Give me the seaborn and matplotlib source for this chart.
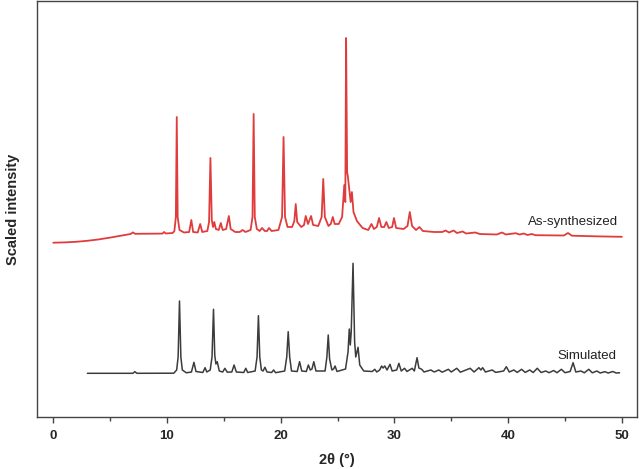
import matplotlib
matplotlib.use("Agg")
import matplotlib.pyplot as plt
from matplotlib.ticker import MultipleLocator
import seaborn as sns
import pandas as pd

# ---- data (2theta in degrees, scaled intensity in arbitrary units) ----
red_theta = [0, 1, 2, 3, 4, 5, 6, 6.8, 7.0, 7.2, 8.5, 9.6, 9.75, 9.9, 10.5,
             10.65, 10.78, 10.86, 10.94, 11.1, 11.5,
             11.95, 12.14, 12.3, 12.7, 12.92, 13.1, 13.55, 13.7, 13.82, 13.94, 14.05, 14.16, 14.3,
             14.55, 14.73, 14.9, 15.2, 15.44, 15.6, 16.0, 16.4, 16.65, 16.9, 17.35, 17.52, 17.62,
             17.72, 17.9, 18.15, 18.36, 18.6, 18.8, 18.97, 19.2, 19.8, 20.12, 20.25, 20.38, 20.6,
             21.0, 21.2, 21.32, 21.45, 21.8, 22.05, 22.2, 22.4, 22.67, 22.85, 23.3, 23.6, 23.74,
             23.88, 24.2, 24.4, 24.58, 24.75, 25.1, 25.4, 25.59, 25.68, 25.75, 25.84, 25.9, 26.05,
             26.15, 26.26, 26.4, 26.7, 27.2, 27.7, 27.98, 28.2, 28.45, 28.65, 28.85, 29.1, 29.29,
             29.5, 29.8, 29.96, 30.15, 30.8, 31.15, 31.35, 31.55, 31.9, 32.2, 32.5, 33.5, 34.2,
             34.5, 34.8, 35.2, 35.5, 36.0, 36.3, 37.1, 37.5, 39.0, 39.45, 39.8, 40.66, 41.0, 41.36,
             41.7, 42.07, 42.4, 44.9, 45.26, 45.6, 48.0, 50.0]
red_int = [174.3, 174.6, 175.2, 176.2, 177.6, 179.4, 181.4, 183.0, 184.6, 183.2, 183.3, 183.4, 185.0, 183.5, 184.0,
           186, 200, 300, 200, 187, 184.5,
           185, 197, 185, 184.5, 193, 185, 186, 195, 259, 197, 190, 195, 188,
           187, 194, 187, 188, 201, 188, 185, 185, 187, 185, 187, 200, 303,
           200, 188, 186, 189, 186, 186, 189, 186, 187, 200, 280, 200, 190,
           190, 196, 213, 195, 190, 192, 201, 193, 201, 192, 191, 200, 238,
           200, 191, 193, 200, 193, 193, 200, 232, 215, 379, 245, 241, 225,
           215, 225, 205, 196, 189, 187, 193, 188, 190, 199, 190, 190, 195,
           189, 190, 199, 189, 188, 191, 205, 191, 187, 190, 186, 185, 185,
           186.5, 184.5, 186.5, 184, 185.5, 183.5, 184.5, 183, 182.5, 184.5, 182.5, 183.8, 182.5, 183.5,
           182, 183, 181.8, 181.5, 184, 181.3, 180.6, 180.2]

sim_theta = [3, 7.0, 7.18, 7.35, 10.6, 10.85, 10.98, 11.1, 11.22, 11.35, 11.7, 12.15, 12.37, 12.55,
             13.15, 13.35, 13.5, 13.8, 13.96, 14.09, 14.2, 14.3, 14.42, 14.6, 14.9, 15.09, 15.3,
             15.7, 15.9, 16.1, 16.75, 16.93, 17.1, 17.75, 17.92, 18.04, 18.16, 18.3, 18.45, 18.61,
             18.8, 19.2, 19.38, 19.55, 20.35, 20.53, 20.66, 20.79, 20.95, 21.45, 21.66, 21.85,
             22.25, 22.43, 22.6, 22.75, 22.91, 23.1, 23.9, 24.06, 24.18, 24.3, 24.5, 24.65, 24.78,
             24.95, 25.7, 25.92, 26.03, 26.12, 26.2, 26.36, 26.5, 26.6, 26.8, 26.95, 27.3, 28.05,
             28.27, 28.45, 28.7, 28.87, 29.0, 29.15, 29.35, 29.61, 29.8, 30.2, 30.39, 30.6, 30.89,
             31.1, 31.56, 31.75, 31.99, 32.15, 32.4, 32.6, 33.2, 33.5, 33.9, 34.2, 34.74, 35.0,
             35.48, 35.8, 36.66, 37.0, 37.43, 37.6, 37.76, 38.0, 38.6, 38.9, 39.6, 39.84, 40.1,
             40.5, 40.8, 41.18, 41.5, 41.9, 42.2, 42.56, 42.9, 43.3, 43.6, 44.0, 44.3, 44.68, 45.0,
             45.45, 45.71, 45.95, 46.4, 46.7, 47.09, 47.4, 47.8, 48.1, 48.5, 48.8, 49.2, 49.5, 49.8]
sim_int = [43.7, 43.7, 45.3, 43.7, 43.8, 47, 60, 116, 60, 47, 44.2, 45, 54.7, 45.5,
           44.5, 49.3, 45, 47, 60, 107.7, 62, 53, 55.3, 46, 45, 48.7, 44.8,
           45, 52, 45, 44.5, 48.7, 44.5, 46, 60, 101.3, 60, 47, 46, 49.7,
           45, 44.5, 47, 44.3, 46, 60, 85.3, 60, 46, 45.5, 55.3, 46,
           45.5, 52, 47, 48, 55.3, 46, 46, 60, 82, 58, 47, 48, 51,
           45.5, 48, 65, 88, 72, 85, 153.7, 75, 60, 69.7, 52, 46, 45.5,
           47.7, 45, 47, 51, 49, 51, 47, 52.7, 46, 47, 53.7, 46, 48.7,
           45.5, 48.7, 46, 59.3, 49, 47.7, 45, 47, 45, 47, 44.8, 47.7, 45,
           48.7, 44.8, 48.7, 45, 49.3, 47, 49.3, 45, 47, 44.6, 46, 50.3, 45,
           47, 44.6, 47.7, 44.6, 47, 44.5, 48.7, 44.5, 46, 44.3, 46.5, 44.3, 47.7, 44.3,
           45.5, 54.3, 45, 46, 44.2, 47.7, 44.2, 46, 44, 45.3, 44, 45.5, 44, 44.2]

labels = ["As-synthesized", "Simulated"]
label_pos = [(49.7, 195.3), (49.5, 61.0)]
x_ticks = [0, 10, 20, 30, 40, 50]

red_df = pd.DataFrame({"theta": red_theta, "intensity": red_int})
sim_df = pd.DataFrame({"theta": sim_theta, "intensity": sim_int})

sns.set_theme(style="ticks")
plt.rcParams["font.family"] = ["Liberation Sans", "DejaVu Sans"]

fig = plt.figure(figsize=(6.4, 4.69), dpi=100)
ax = fig.add_axes([37 / 640, 1 - 417 / 469, 600 / 640, 416 / 469])

sns.lineplot(data=red_df, x="theta", y="intensity", sort=False, estimator=None,
             color="#e03c3c", linewidth=1.3, ax=ax)
sns.lineplot(data=sim_df, x="theta", y="intensity", sort=False, estimator=None,
             color="#3c3c3c", linewidth=1.1, ax=ax)

for txt, (xx, yy) in zip(labels, label_pos):
    ax.text(xx, yy, txt, ha="right", va="center", fontsize=9.5, color="#222222")

ax.set_xlim(-1.43, 51.33)
ax.set_ylim(0, 416)
ax.set_xticks(x_ticks)
ax.xaxis.set_minor_locator(MultipleLocator(5))
ax.set_yticks([])
ax.tick_params(axis="x", which="major", direction="out", length=4, width=1,
               color="#444444", labelsize=9.5, pad=5)
ax.tick_params(axis="x", which="minor", direction="out", length=3, width=1, color="#444444")
for lab in ax.get_xticklabels():
    lab.set_fontweight("bold")
for sp in ax.spines.values():
    sp.set_visible(True)
    sp.set_color("#444444")
    sp.set_linewidth(1.0)

ax.set_xlabel("2θ (°)", fontsize=10.5, fontweight="bold", labelpad=8)
ax.set_ylabel("Scaled intensity", fontsize=10.5, fontweight="bold", labelpad=12)

fig.savefig("out.png", dpi=100)
